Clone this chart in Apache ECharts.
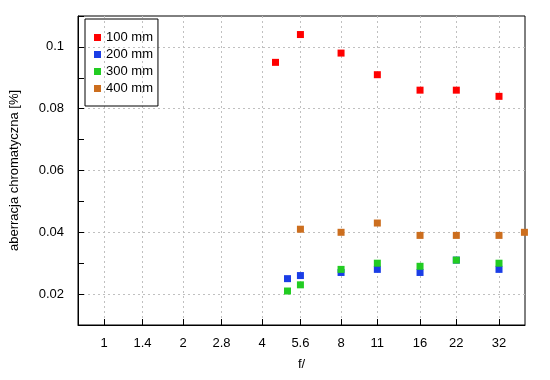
<!DOCTYPE html>
<html>
<head>
<meta charset="utf-8">
<script src="https://cdn.jsdelivr.net/npm/echarts@6/dist/echarts.min.js"></script>
<style>html,body{margin:0;padding:0;background:#fff}#c{width:550px;height:380px}</style>
</head>
<body>
<div id="c"></div>
<script>
// f-numbers (x positions) for each series
var f100 = [4.5, 5.6, 8, 11, 16, 22, 32];
var v100 = [0.095, 0.104, 0.098, 0.091, 0.086, 0.086, 0.084];
var f200 = [5, 5.6, 8, 11, 16, 22, 32];
var v200 = [0.025, 0.026, 0.027, 0.028, 0.027, 0.031, 0.028];
var f300 = [5, 5.6, 8, 11, 16, 22, 32];
var v300 = [0.021, 0.023, 0.028, 0.030, 0.029, 0.031, 0.030];
var f400 = [5.6, 8, 11, 16, 22, 32, 40];
var v400 = [0.041, 0.040, 0.043, 0.039, 0.039, 0.039, 0.040];
var seriesNames = ['100 mm', '200 mm', '300 mm', '400 mm'];
var xTicks = [1, 1.4, 2, 2.8, 4, 5.6, 8, 11, 16, 22, 32];
var yTicks = [0.02, 0.04, 0.06, 0.08, 0.1];

var colors = ['#ff0000', '#1a3de6', '#22cc22', '#cc6e1e'];
var FONT = '"Liberation Sans", Arial, sans-serif';

function pairs(xs, ys) { return xs.map(function (x, i) { return [x, ys[i]]; }); }

var chart = echarts.init(document.getElementById('c'), null, { renderer: 'canvas' });
var gridLine = { show: true, lineStyle: { color: '#c0c0c0', type: [2, 3], width: 1 } };
function sc(i, xs, ys) {
  return { name: seriesNames[i], type: 'scatter', symbol: 'rect', symbolSize: 7,
    itemStyle: { color: colors[i], opacity: 1 }, data: pairs(xs, ys), clip: false };
}
chart.setOption({
  animation: false,
  textStyle: { fontFamily: FONT },
  grid: { left: 77, top: 16, right: 25, bottom: 55, show: true, borderColor: '#000', borderWidth: 1, backgroundColor: 'transparent' },
  legend: {
    orient: 'vertical', left: 85, top: 19,
    data: seriesNames,
    icon: 'rect', itemWidth: 7, itemHeight: 7, itemGap: 4,
    padding: [12, 5, 11, 9],
    borderColor: '#000', borderWidth: 1,
    itemStyle: { opacity: 1 },
    textStyle: { fontFamily: FONT, fontSize: 13, color: '#000', lineHeight: 13 }
  },
  xAxis: {
    type: 'log', logBase: 2, min: 0.795, max: 40.2,
    name: 'f/', nameLocation: 'middle', nameGap: 33,
    nameTextStyle: { fontFamily: FONT, fontSize: 13, color: '#000' },
    axisLine: { show: true, lineStyle: { color: '#000', width: 1 } },
    axisTick: { show: true, inside: true, length: 6, lineStyle: { color: '#000' }, customValues: xTicks },
    axisLabel: { customValues: xTicks, fontFamily: FONT, fontSize: 13, color: '#000', margin: 12,
      formatter: function (v) { return String(v); } },
    splitLine: gridLine,
    minorTick: { show: false }, minorSplitLine: { show: false }
  },
  yAxis: [{
    type: 'value', min: 0.01, max: 0.11,
    name: 'aberracja chromatyczna [%]', nameLocation: 'middle', nameGap: 57,
    nameTextStyle: { fontFamily: FONT, fontSize: 13, color: '#000' },
    axisLine: { show: true, lineStyle: { color: '#000', width: 1 } },
    axisTick: { show: true, inside: true, length: 6, lineStyle: { color: '#000' }, customValues: yTicks },
    axisLabel: { customValues: yTicks, fontFamily: FONT, fontSize: 13, color: '#000', margin: 14,
      formatter: function (v) { return String(+v.toFixed(2)); } },
    splitLine: gridLine
  }, {
    type: 'value', min: 0.01, max: 0.11, interval: 0.01, position: 'left',
    axisLine: { show: false },
    axisTick: { show: true, inside: true, length: 6, lineStyle: { color: '#000' } },
    axisLabel: { show: false }, splitLine: { show: false }
  }],
  series: [
    sc(0, f100, v100),
    sc(1, f200, v200),
    sc(2, f300, v300),
    sc(3, f400, v400)
  ]
});
</script>
</body>
</html>
